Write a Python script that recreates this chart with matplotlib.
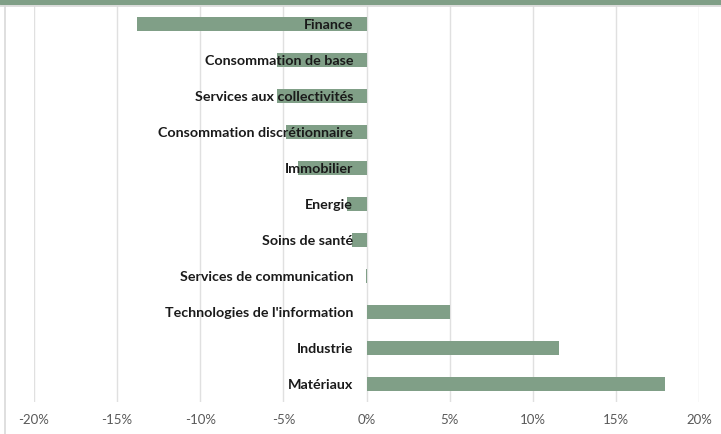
import matplotlib.pyplot as plt
from matplotlib.lines import Line2D
from matplotlib.patches import Rectangle

sectors = ["Finance", "Consommation de base", "Services aux collectivités",
           "Consommation discrétionnaire", "Immobilier", "Energie",
           "Soins de santé", "Services de communication",
           "Technologies de l'information", "Industrie", "Matériaux"]
perf = [-13.8, -5.4, -5.4, -4.85, -4.1, -1.15, -0.9, -0.05, 5.05, 11.6, 17.95]
ticks = [-20, -15, -10, -5, 0, 5, 10, 15, 20]

green = "#809f87"
W, H = 721, 435

fig = plt.figure(figsize=(W / 100, H / 100), dpi=100)

# green header band and chart border
fig.patches.append(Rectangle((0, 1 - 5 / H), 1, 5 / H, transform=fig.transFigure,
                             color=green, zorder=0))
fig.lines.append(Line2D([0, 1], [1 - 6.5 / H] * 2, transform=fig.transFigure,
                        color="#d9d9d9", lw=1.2))
fig.lines.append(Line2D([4.5 / W] * 2, [0, 1 - 6.5 / H], transform=fig.transFigure,
                        color="#d9d9d9", lw=1.2))

ax = fig.add_axes([34 / W, (H - 403) / H, (699 - 34) / W, 396 / H])
ax.set_xlim(-20, 20)
ax.set_ylim(len(sectors) - 0.5, -0.5)

ax.barh(range(len(sectors)), perf, height=0.37, color=green, zorder=2)

for i, name in enumerate(sectors):
    ax.text(-0.8, i, name, ha="right", va="center", fontsize=10.3,
            fontweight="bold", family="Lato", color="#1a1a1a", zorder=3)

ax.set_xticks(ticks)
ax.set_xticklabels([f"{t}%" for t in ticks], family="Lato", fontsize=9.5,
                   color="#595959")
ax.set_yticks([])
ax.tick_params(axis="x", length=0, pad=8)
ax.grid(axis="x", color="#e0e0e0", lw=1, zorder=0)
for s in ax.spines.values():
    s.set_visible(False)

fig.savefig("out.png", dpi=100)
